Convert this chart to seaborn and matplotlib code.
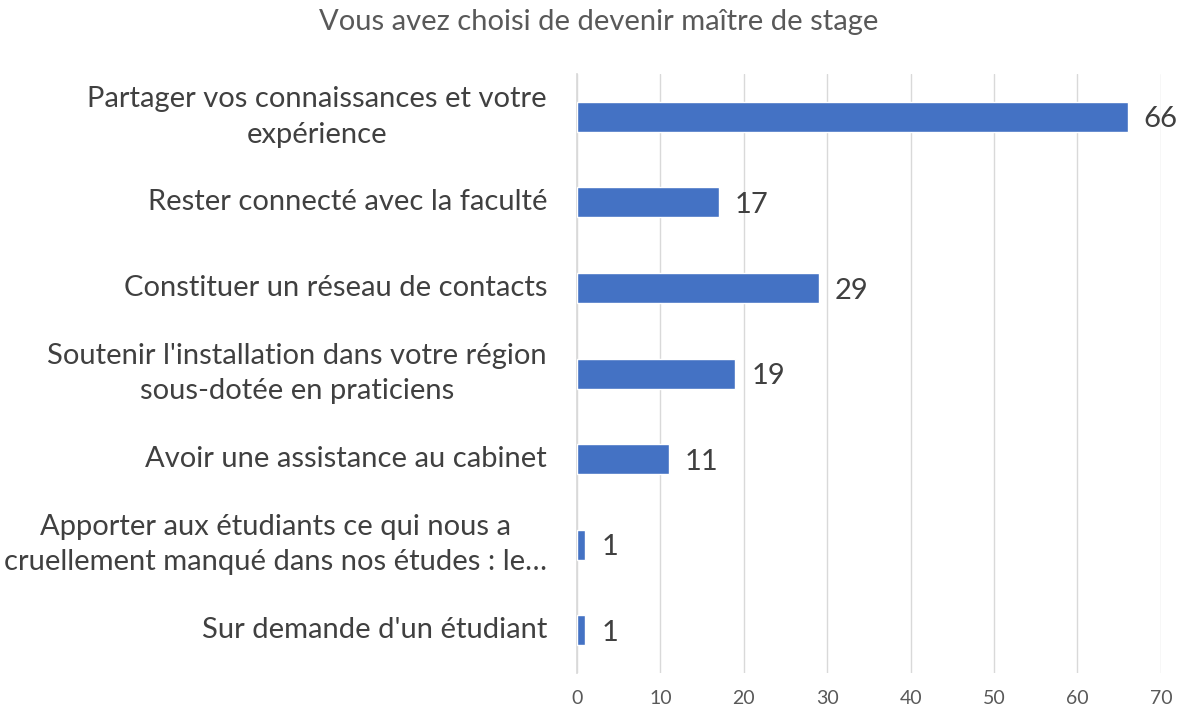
import matplotlib
matplotlib.use("Agg")
import matplotlib.pyplot as plt
import matplotlib.transforms as mtransforms
import seaborn as sns
import pandas as pd

categories = [
    "Partager vos connaissances et votre\nexpérience",
    "Rester connecté avec la faculté",
    "Constituer un réseau de contacts",
    "Soutenir l'installation dans votre région\nsous-dotée en praticiens",
    "Avoir une assistance au cabinet",
    "Apporter aux étudiants ce qui nous a\ncruellement manqué dans nos études : le…",
    "Sur demande d'un étudiant",
]
values = [66, 17, 29, 19, 11, 1, 1]
title = "Vous avez choisi de devenir maître de stage"

sns.set_theme(style="white")
plt.rcParams['font.family'] = ['Lato', 'DejaVu Sans']

df = pd.DataFrame({"cat": categories, "val": values})

fig = plt.figure(figsize=(11.84, 7.16), dpi=100)
ax = fig.add_axes([0.4873, 0.060, 0.4932, 0.8366])
sns.barplot(data=df, y="cat", x="val", color="#4472C4", width=0.35,
            saturation=1, ax=ax, orient="h", zorder=3)

ax.set_xlim(0, 70)
ax.set_xticks(range(0, 71, 10))
ax.grid(axis="x", color="#D9D9D9", linewidth=1, zorder=0)
ax.grid(axis="y", visible=False)
for s in ["top", "right", "bottom"]:
    ax.spines[s].set_visible(False)
ax.spines["left"].set_color("#D9D9D9")
ax.set_xlabel("")
ax.set_ylabel("")
ax.tick_params(axis="x", labelsize=14, colors="#595959", length=0, pad=12)
ax.tick_params(axis="y", length=0)
ax.set_yticklabels([])

trans = mtransforms.blended_transform_factory(fig.transFigure, ax.transData)
for i, c in enumerate(categories):
    fig.text(547 / 1184, i, c, transform=trans, ha="right", va="center",
             multialignment="center", fontsize=21, color="#404040", linespacing=1.45)

for i, v in enumerate(values):
    ax.text(v + 1.9, i + 0.03, str(v), va="center", ha="left", fontsize=21, color="#404040")

fig.text(0.506, 0.969, title, ha="center", va="center", fontsize=21, color="#595959")

fig.savefig("out.png", dpi=100)
